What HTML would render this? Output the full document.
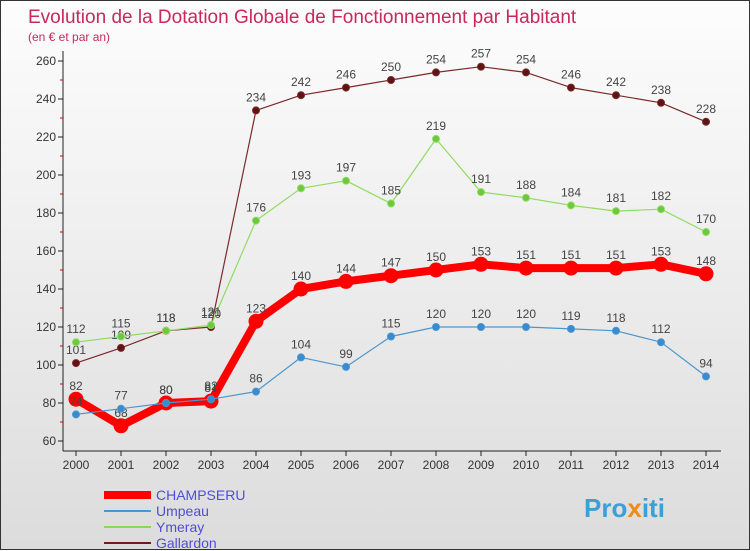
<!DOCTYPE html>
<html><head><meta charset="utf-8"><style>
body{margin:0}
#c{width:750px;height:550px;position:relative;background:linear-gradient(#fdfdfd,#dcdcdc);box-sizing:border-box;border:1px solid #333;font-family:"Liberation Sans",sans-serif}
</style></head><body>
<div id="c">
<svg id="s" width="750" height="550" style="position:absolute;left:0;top:0" font-family="Liberation Sans, DejaVu Sans, sans-serif">
<text x="27" y="22" font-size="19" fill="#c8285a">Evolution de la Dotation Globale de Fonctionnement par Habitant</text>
<text x="27" y="40" font-size="12" fill="#c8285a">(en € et par an)</text>
<g id="g"></g>
<g>
<line x1="103" y1="494" x2="150" y2="494" stroke="#ff0000" stroke-width="8"/>
<text x="155" y="499" font-size="14" fill="#4e4ed8">CHAMPSERU</text>
<line x1="103" y1="510" x2="150" y2="510" stroke="#4a97cf" stroke-width="2"/>
<text x="155" y="515" font-size="14" fill="#4e4ed8">Umpeau</text>
<line x1="103" y1="526" x2="150" y2="526" stroke="#88d85a" stroke-width="2"/>
<text x="155" y="531" font-size="14" fill="#4e4ed8">Ymeray</text>
<line x1="103" y1="542" x2="150" y2="542" stroke="#6b1c1c" stroke-width="2"/>
<text x="155" y="547" font-size="14" fill="#4e4ed8">Gallardon</text>
</g>
<text x="583" y="516" font-size="26" font-weight="bold" fill="#3aa0d8">Pro<tspan fill="#f08a1c">x</tspan>iti</text>
</svg>
</div>
<script>
const years=[2000,2001,2002,2003,2004,2005,2006,2007,2008,2009,2010,2011,2012,2013,2014];
const champseru=[82,68,80,81,123,140,144,147,150,153,151,151,151,153,148];
const umpeau=[74,77,80,82,86,104,99,115,120,120,120,119,118,112,94];
const ymeray=[112,115,118,121,176,193,197,185,219,191,188,184,181,182,170];
const gallardon=[101,109,118,120,234,242,246,250,254,257,254,246,242,238,228];
const yTicks=[60,80,100,120,140,160,180,200,220,240,260];
const NS="http://www.w3.org/2000/svg";
const g=document.getElementById('g');
const X=i=>75+i*45;
const Y=v=>440-(v-60)*1.9;
function mk(t,a){const e=document.createElementNS(NS,t);for(const k in a)e.setAttribute(k,a[k]);g.appendChild(e);return e;}
let e=mk('line',{x1:62,y1:50,x2:62,y2:450,stroke:'#222','stroke-width':1});


e=mk('line',{x1:62,y1:450,x2:720,y2:450,stroke:'#222','stroke-width':1});


yTicks.forEach(v=>{
 let t=mk('line',{x1:57,y1:Y(v),x2:62,y2:Y(v),stroke:'#222'});
 
 
 if(v<260){let m=mk('line',{x1:59,y1:Y(v+10),x2:62,y2:Y(v+10),stroke:'#d00'});
 
 }
 let l=mk('text',{x:55,y:Y(v)+4,'font-size':12,fill:'#333','text-anchor':'end'});l.textContent=v;
 
 
});
years.forEach((y,i)=>{
 let t=mk('line',{x1:X(i),y1:450,x2:X(i),y2:455,stroke:'#222'});
 
 
 let l=mk('text',{x:X(i),y:468,'font-size':12,fill:'#333','text-anchor':'middle'});l.textContent=y;
 
 
});
function series(name,data,color,w,r,dot){
 const p=mk('polyline',{points:data.map((v,i)=>X(i)+','+Y(v)).join(' '),fill:'none',stroke:color,'stroke-width':w,'stroke-linejoin':'round'});
 
 
 data.forEach((v,i)=>{
  const c=mk('circle',{cx:X(i),cy:Y(v),r:r,fill:dot,stroke:color,'stroke-width':1});
  
  
  const t=mk('text',{x:X(i),y:Y(v)-9,'font-size':12,fill:'#444','text-anchor':'middle'});t.textContent=v;
  
  
 });
}
series('gallardon',gallardon,'#7a2a2a',1.2,3.5,'#5e1414');
series('ymeray',ymeray,'#90dc60',1.2,3.5,'#6cc83c');
series('champseru',champseru,'#ff0000',8,7,'#ff0000');
series('umpeau',umpeau,'#4a97cf',1.2,3.5,'#3a8ad0');
</script>
</body></html>
